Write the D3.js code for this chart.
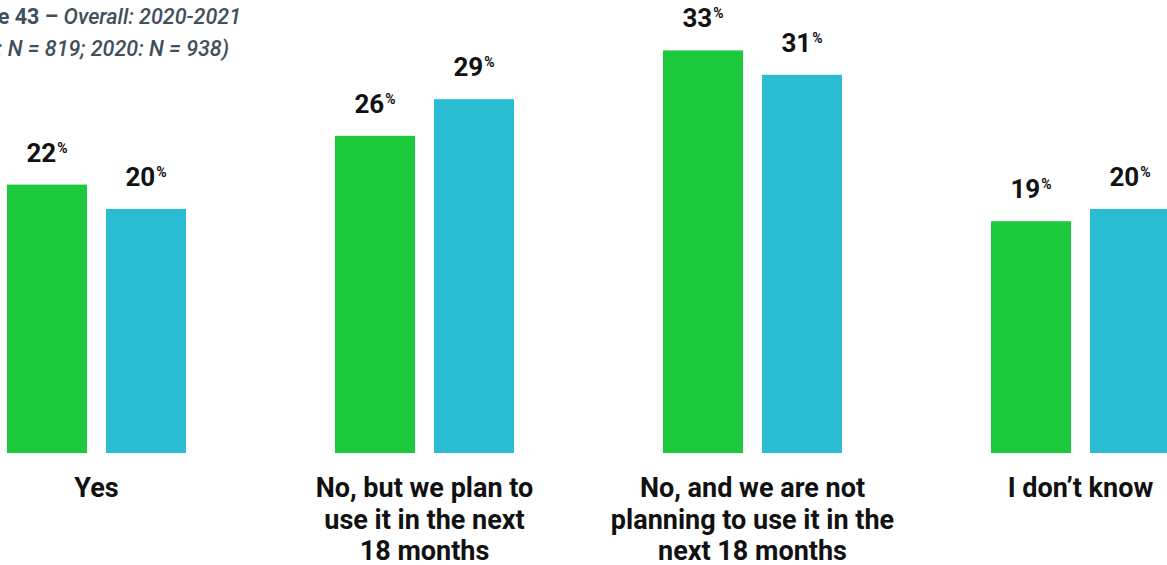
<!DOCTYPE html>
<html><head><meta charset="utf-8">
<script src="https://cdn.jsdelivr.net/npm/d3@7"></script>
<style>body{margin:0;background:#fff;} svg{display:block;font-family:Roboto,"Noto Sans",sans-serif;}</style>
</head><body><svg id="c" width="1167" height="565"></svg>
<script>
const categories = [["Yes"], ["No, but we plan to","use it in the next","18 months"], ["No, and we are not","planning to use it in the","next 18 months"], ["I don\u2019t know"]];
const categoryKeys = ["Yes","No, plan","No, not planning","Don't know"];
const series = ["2021","2020"];
const values2021 = [22, 26, 33, 19];
const values2020 = [20, 29, 31, 20];
const titleLines = ["Overall: 2020-2021", "(2021: N = 819; 2020: N = 938)"];
const colors = {"2021":"#1cc83c","2020":"#2abcd2"};

const svg = d3.select("#c");
const x0 = d3.scaleBand().domain(categoryKeys).range([7, 7 + 4*328]).padding(0);
const x1 = d3.scaleBand().domain(series).range([0, 179]).paddingInner(19/99).paddingOuter(0);
const y = d3.scaleLinear().domain([0, 35]).range([453, 453 - 35*12.2]);

const data = categoryKeys.map((k,i)=>({key:k, vals:[{s:"2021",v:values2021[i]},{s:"2020",v:values2020[i]}]}));

// title (cropped on left, as in the reference)
const t1 = svg.append("text").attr("x", 241).attr("y", 24).attr("text-anchor","end")
  .attr("font-size", 21.5).attr("font-style","italic").attr("fill","#414f5c");
t1.append("tspan").attr("font-weight","bold").attr("font-style","normal").text("Figure 43 \u2013 ");
t1.append("tspan").attr("font-weight","500").text(titleLines[0]);
svg.append("text").attr("x", 229).attr("y", 56).attr("text-anchor","end")
  .attr("font-size", 21.5).attr("font-style","italic").attr("font-weight","500").attr("fill","#414f5c").text(titleLines[1]);

const g = svg.selectAll("g.grp").data(data).join("g").attr("class","grp")
  .attr("transform", d=>`translate(${x0(d.key)},0)`);

g.selectAll("rect").data(d=>d.vals).join("rect")
  .attr("x", d=>x1(d.s)).attr("width", x1.bandwidth())
  .attr("y", d=>y(d.v)).attr("height", d=>y(0)-y(d.v))
  .attr("fill", d=>colors[d.s]);

const lab = g.selectAll("text.val").data(d=>d.vals).join("text").attr("class","val")
  .attr("x", d=>x1(d.s) + x1.bandwidth()/2).attr("y", d=>y(d.v) - 23)
  .attr("text-anchor","middle").attr("font-weight","bold").attr("font-size",26).attr("fill","#111");
lab.append("tspan").text(d=>d.v);
lab.append("tspan").attr("font-size",14).attr("dx",1).attr("dy",-9).text("%");

g.each(function(d,i){
  const t = d3.select(this).append("text").attr("text-anchor","middle")
    .attr("font-weight","bold").attr("font-size",27).attr("fill","#111");
  categories[i].forEach((line,j)=>{
    t.append("tspan").attr("x", 179/2).attr("y", 497 + j*31.5).text(line);
  });
});
</script></body></html>
